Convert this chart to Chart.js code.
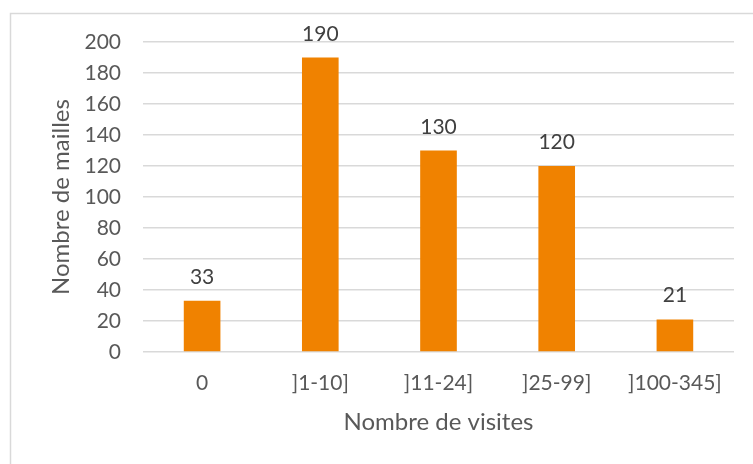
<!DOCTYPE html>
<html>
<head>
<meta charset="utf-8">
<script src="https://cdn.jsdelivr.net/npm/chart.js@4"></script>
<style>
  html, body { margin: 0; padding: 0; background: #fff; }
  #wrap { width: 753px; height: 464px; position: relative; }
</style>
</head>
<body>
<div id="wrap"><canvas id="myMaillesChart"></canvas></div>
<script>
// data
const categories = ['0', ']1-10]', ']11-24]', ']25-99]', ']100-345]'];
const mailles = [33, 190, 130, 120, 21];
const yTicks = [0, 20, 40, 60, 80, 100, 120, 140, 160, 180, 200];

const textColor = '#595959';
const gridColor = '#d9d9d9';
const fontFamily = 'Lato, "Open Sans", sans-serif';

// frame around the chart area
const framePlugin = {
  id: 'frame',
  beforeDraw: (chart) => {
    const ctx = chart.ctx;
    ctx.save();
    ctx.fillStyle = 'white';
    ctx.fillRect(0, 0, chart.width, chart.height);
    ctx.strokeStyle = gridColor;
    ctx.lineWidth = 1.5;
    ctx.strokeRect(10.5, 13.5, chart.width, chart.height);
    ctx.restore();
  }
};

// value labels above bars
const valueLabels = {
  id: 'valueLabels',
  afterDatasetsDraw: (chart) => {
    const ctx = chart.ctx;
    const meta = chart.getDatasetMeta(0);
    ctx.save();
    ctx.fillStyle = '#404040';
    ctx.font = '21px ' + fontFamily;
    ctx.textAlign = 'center';
    ctx.textBaseline = 'alphabetic';
    meta.data.forEach((bar, i) => {
      ctx.fillText(String(chart.data.datasets[0].data[i]), bar.x, bar.y - 17);
    });
    ctx.restore();
  }
};

const config = {
  type: 'bar',
  data: {
    labels: categories,
    datasets: [{
      label: 'Nombre de mailles',
      data: mailles,
      backgroundColor: '#F08200',
      borderWidth: 0,
      categoryPercentage: 1,
      barPercentage: 0.31
    }]
  },
  options: {
    responsive: false,
    animation: false,
    layout: { padding: { left: 0, top: 42, right: 19, bottom: 0 } },
    plugins: {
      legend: { display: false },
      tooltip: { enabled: false }
    },
    scales: {
      x: {
        grid: { display: false, drawTicks: false },
        border: { display: false },
        ticks: { color: textColor, font: { family: fontFamily, size: 21 }, padding: 19, maxRotation: 0 },
        title: {
          display: true, text: 'Nombre de visites', color: textColor,
          font: { family: fontFamily, size: 24 }, padding: { bottom: 27 }
        },
        afterFit: (scale) => { scale.height = 112; }
      },
      y: {
        min: 0, max: 200,
        afterBuildTicks: (scale) => { scale.ticks = yTicks.map(v => ({ value: v })); },
        grid: { color: gridColor, lineWidth: 1.5, drawTicks: false },
        border: { display: false },
        ticks: { color: textColor, font: { family: fontFamily, size: 21 }, padding: 22 },
        title: {
          display: true, text: 'Nombre de mailles', color: textColor,
          font: { family: fontFamily, size: 24 }, padding: { top: 47 }
        },
        afterFit: (scale) => { scale.width = 143; }
      }
    }
  },
  plugins: [framePlugin, valueLabels]
};

const canvas = document.getElementById('myMaillesChart');
canvas.width = 753;
canvas.height = 464;
const myMaillesChart = new Chart(canvas, config);
</script>
</body>
</html>
